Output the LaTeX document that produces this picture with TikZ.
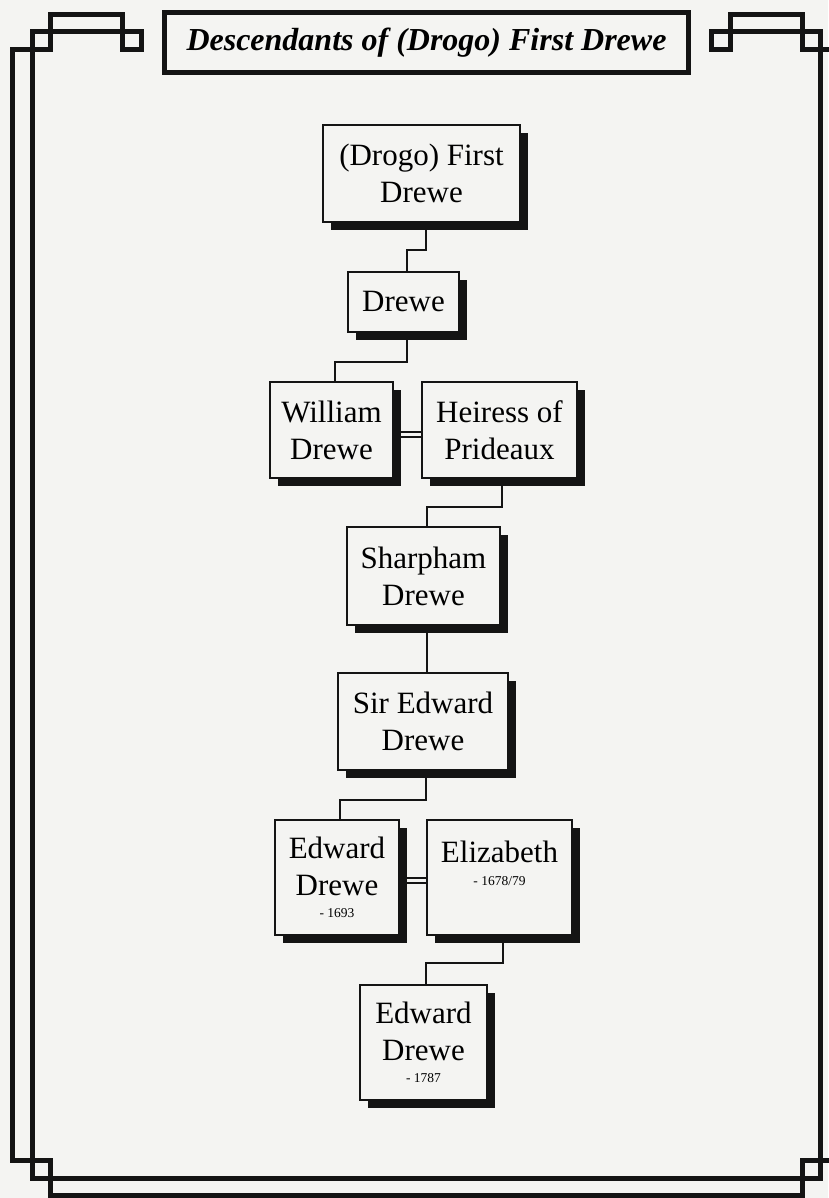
\documentclass[tikz,border=0pt]{standalone}
\usepackage{fontspec}
\setmainfont{Liberation Serif}
\usetikzlibrary{shadows}
\pgfdeclarelayer{back}
\pgfdeclarelayer{links}
\pgfsetlayers{back,links,main}

\definecolor{paper}{HTML}{F4F4F2}
\definecolor{ink}{HTML}{141414}
\newcommand{\yearfont}{\fontsize{13.5}{15}\selectfont}

\begin{document}
\begin{tikzpicture}[x=1pt,y=-1pt,
  frameline/.style={draw=ink, line width=5pt, line join=miter, line cap=rect},
  titlebox/.style={draw=ink, line width=5pt, fill=paper, inner sep=0pt,
    font=\fontsize{32}{38}\selectfont\bfseries\itshape},
  person/.style={draw=ink, line width=2pt, fill=paper, align=center, inner sep=0pt,
    font=\fontsize{31}{37}\selectfont,
    general shadow={fill=ink, shadow xshift=8pt, shadow yshift=-8pt}},
  personlabel/.style={align=center, inner sep=0pt, font=\fontsize{31}{37}\selectfont},
  link/.style={draw=ink, line width=2pt},
  wedlock/.style={draw=ink, line width=1.6pt}]

\begin{pgfonlayer}{back}
  \fill[paper] (0,0) rectangle (828,1198);
\end{pgfonlayer}
\useasboundingbox (0,0) rectangle (828,1198);

% double border with knotted corners
\draw[frameline]
  (50.5,1195) -- (50.5,1160.5) -- (12.5,1160.5) -- (12.5,50) -- (50.5,50)
  -- (50.5,14.5) -- (122.5,14.5) -- (122.5,50) -- (141,50) -- (141,32)
  -- (32,32) -- (32,1178.5) -- (820.5,1178.5) -- (820.5,32) -- (711.5,32)
  -- (711.5,50) -- (730.5,50) -- (730.5,14.5) -- (802,14.5) -- (802,50)
  -- (840,50) -- (840,1160.5) -- (802,1160.5) -- (802,1195) -- cycle;

% title
\node[titlebox, minimum width=524pt, minimum height=60pt] (title) at (426.5,42.5)
  {Descendants of (Drogo) First Drewe};

% people
\node[person, minimum width=197pt, minimum height=97pt] (n1) at (421.5,173.5) {(Drogo) First\\Drewe};
\node[person, minimum width=111pt, minimum height=60pt] (n2) at (403.5,302) {Drewe};
\node[person, minimum width=123pt, minimum height=96pt] (n3) at (331.5,430) {William\\Drewe};
\node[person, minimum width=155pt, minimum height=96pt] (n4) at (499.5,430) {Heiress of\\Prideaux};
\node[person, minimum width=153pt, minimum height=98pt] (n5) at (423.5,576) {Sharpham\\Drewe};
\node[person, minimum width=170pt, minimum height=97pt] (n6) at (423,721.5) {Sir Edward\\Drewe};
\node[person, minimum width=124pt, minimum height=115pt] (n7) at (337,877.5) {Edward\\Drewe\\[-15pt]{\yearfont - 1693}};
\node[person, minimum width=145pt, minimum height=115pt] (n8) at (499.5,877.5) {};
\node[personlabel, anchor=north] (n8label) at ([yshift=-21.5pt]n8.north) {Elizabeth\\[-14pt]{\yearfont - 1678/79}};
\node[person, minimum width=127pt, minimum height=115pt] (n9) at (423.5,1042.5) {Edward\\Drewe\\[-15pt]{\yearfont - 1787}};

% descent lines and marriages
\begin{pgfonlayer}{links}
  \draw[link] (n1.south -| 426,0) -- (426,250) -- (407,250) -- (n2.north -| 407,0);
  \draw[link] (n2.south -| 407,0) -- (407,362) -- (335,362) -- (n3.north -| 335,0);
  \draw[wedlock] (n3.east |- 0,432) -- (n4.west |- 0,432);
  \draw[wedlock] (n3.east |- 0,437) -- (n4.west |- 0,437);
  \draw[link] (n4.south -| 502,0) -- (502,507) -- (427,507) -- (n5.north -| 427,0);
  \draw[link] (n5.south -| 427,0) -- (n6.north -| 427,0);
  \draw[link] (n6.south -| 426,0) -- (426,800) -- (340,800) -- (n7.north -| 340,0);
  \draw[wedlock] (n7.east |- 0,878) -- (n8.west |- 0,878);
  \draw[wedlock] (n7.east |- 0,883) -- (n8.west |- 0,883);
  \draw[link] (n8.south -| 503,0) -- (503,963) -- (426,963) -- (n9.north -| 426,0);
\end{pgfonlayer}
\end{tikzpicture}
\end{document}
